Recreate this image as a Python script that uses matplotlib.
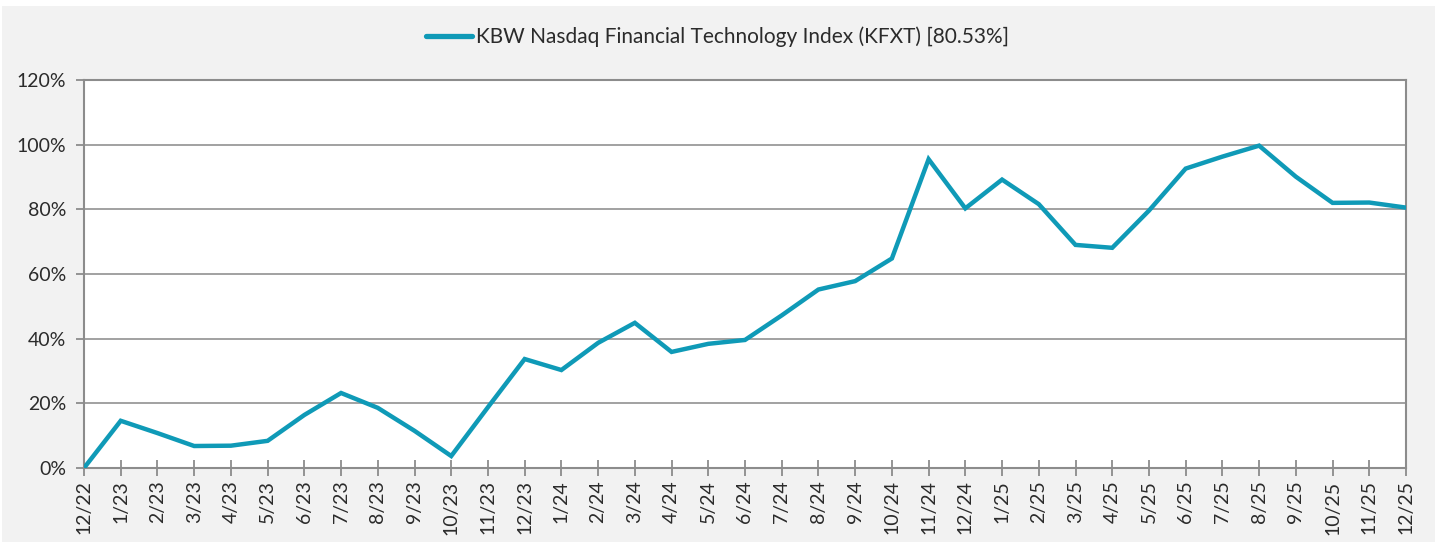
import matplotlib
matplotlib.use("Agg")
import matplotlib.pyplot as plt
from matplotlib.patches import Rectangle
from matplotlib.ticker import FuncFormatter

labels = ["12/22", "1/23", "2/23", "3/23", "4/23", "5/23", "6/23", "7/23", "8/23", "9/23",
          "10/23", "11/23", "12/23", "1/24", "2/24", "3/24", "4/24", "5/24", "6/24", "7/24",
          "8/24", "9/24", "10/24", "11/24", "12/24", "1/25", "2/25", "3/25", "4/25", "5/25",
          "6/25", "7/25", "8/25", "9/25", "10/25", "11/25", "12/25"]
kfxt = [0.0, 14.6, 10.8, 6.8, 6.9, 8.4, 16.4, 23.2, 18.6, 11.5,
        3.7, 18.8, 33.7, 30.3, 38.7, 44.9, 35.9, 38.4, 39.6, 47.2,
        55.2, 57.8, 64.8, 95.5, 80.3, 89.2, 81.6, 69.0, 68.1, 79.6,
        92.6, 96.3, 99.7, 90.1, 82.0, 82.1, 80.53]
series_name = "KBW Nasdaq Financial Technology Index (KFXT) [80.53%]"
yticks = [0, 20, 40, 60, 80, 100, 120]

plt.rcParams['font.family'] = ['Lato', 'DejaVu Sans']
text_color = '#2b2b2b'
line_color = '#0f9ab7'
axis_color = '#8c8c8c'

fig = plt.figure(figsize=(14.35, 5.44), dpi=100, facecolor='white')
fig.patches.append(Rectangle((2/1435, 2/544), 1 - 2/1435, 1 - 8/544, transform=fig.transFigure,
                             facecolor='#f2f2f2', edgecolor='none', zorder=-10))
ax = fig.add_axes([84/1435, 1 - 468/544, (1406 - 84)/1435, (468 - 80)/544])
ax.set_facecolor('white')

x = list(range(len(labels)))
ax.plot(x, kfxt, color=line_color, lw=3.2, solid_joinstyle='miter', label=series_name, zorder=3)

ax.set_xlim(0, len(labels) - 1)
ax.set_ylim(0, 120)
ax.set_yticks(yticks)
ax.yaxis.set_major_formatter(FuncFormatter(lambda v, p: f"{v:.0f}%"))
ax.set_xticks(x)
ax.set_xticklabels(labels, rotation=90)

ax.grid(axis='y', color='#9a9a9a', lw=1.3, zorder=1)
for s in ax.spines.values():
    s.set_color(axis_color)
    s.set_linewidth(1.5)

ax.tick_params(axis='y', direction='out', length=6, width=1.3, color=axis_color,
               labelsize=14, labelcolor=text_color, pad=7)
ax.tick_params(axis='x', direction='inout', length=12, width=1.3, color=axis_color,
               labelsize=14, labelcolor=text_color, pad=3)

leg = fig.legend(loc='center', bbox_to_anchor=(0.5, 1 - 37/544), frameon=False,
                 handlelength=2.2, handletextpad=0.2, prop={'size': 15})
for line in leg.get_lines():
    line.set_linewidth(3.8)
    line.set_solid_capstyle('round')
for t in leg.get_texts():
    t.set_color(text_color)

fig.savefig("out.png", dpi=100, facecolor=fig.get_facecolor())
